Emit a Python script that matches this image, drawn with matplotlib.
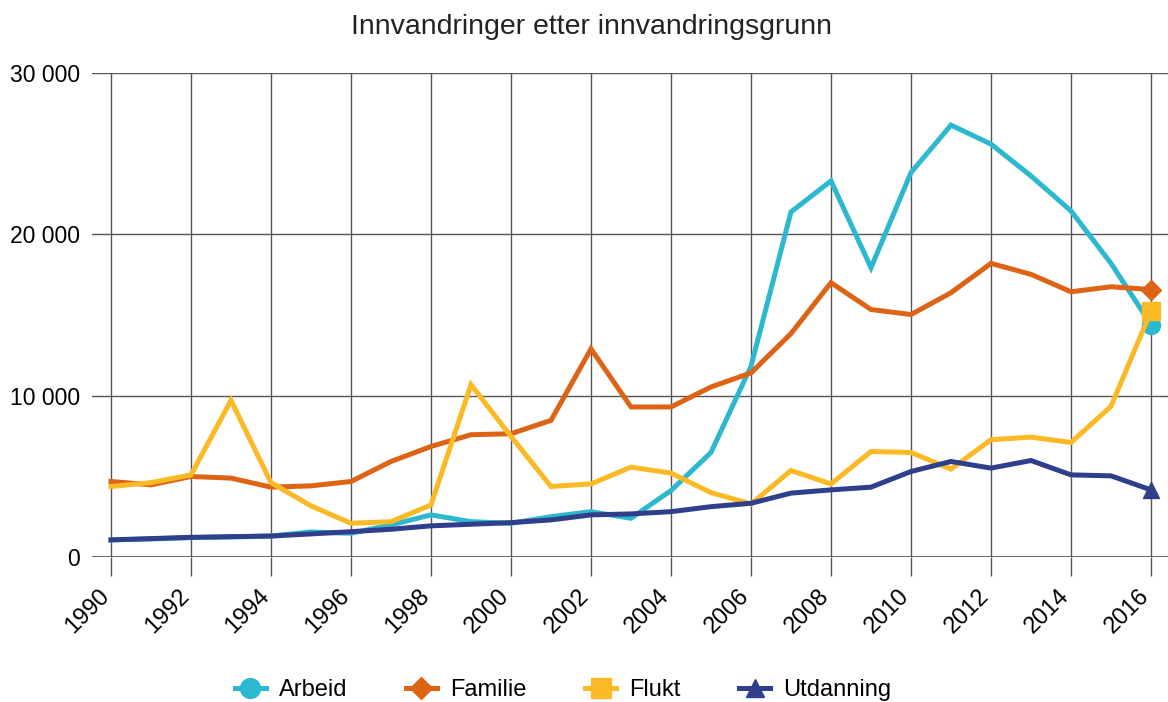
"""Innvandringer etter innvandringsgrunn, 1990-2016."""

import matplotlib.pyplot as plt
from matplotlib.transforms import ScaledTranslation

plt.rcParams["font.family"] = ["Liberation Sans", "DejaVu Sans"]

years = list(range(1990, 2017))

arbeid = [1060, 1120, 1200, 1240, 1300, 1550, 1470, 1990, 2610, 2190,
          2090, 2500, 2810, 2400, 4120, 6480, 11820, 21390, 23310, 17930,
          23830, 26770, 25590, 23620, 21450, 18200, 14410]
familie = [4680, 4470, 4990, 4890, 4330, 4410, 4680, 5920, 6850, 7580,
           7640, 8470, 12900, 9300, 9300, 10540, 11410, 13850, 17000, 15340,
           15030, 16380, 18200, 17520, 16440, 16750, 16580]
flukt = [4370, 4610, 5090, 9710, 4610, 3170, 2090, 2190, 3230, 10680,
         7470, 4370, 4530, 5570, 5200, 3990, 3290, 5360, 4530, 6540,
         6480, 5450, 7270, 7430, 7100, 9340, 15240]
utdanning = [1060, 1140, 1220, 1260, 1300, 1430, 1570, 1720, 1930, 2030,
             2130, 2300, 2610, 2670, 2810, 3120, 3330, 3960, 4160, 4330,
             5300, 5920, 5510, 5980, 5090, 5030, 4160]

series = [
    ("Arbeid", arbeid, "#2cb9cf", "o", 13),
    ("Familie", familie, "#dc6414", "D", 10),
    ("Flukt", flukt, "#fbb925", "s", 13),
    ("Utdanning", utdanning, "#303f8b", "^", 12),
]

fig = plt.figure(figsize=(11.68, 7.02), dpi=100)
ax = fig.add_axes([92 / 1168, 145 / 702, 1076 / 1168, 484 / 702])

for name, values, color, marker, msize in series:
    ax.plot(years, values, color=color, lw=3.6, marker=marker, markersize=msize,
            markevery=[len(values) - 1], label=name, solid_joinstyle="miter",
            zorder=3)

ax.set_xlim(1990 - 19 / 40, 1990 + 1076 / 40 - 19 / 40)
ax.set_ylim(0, 30000)
ax.set_xticks(range(1990, 2017, 2))
ax.set_yticks([0, 10000, 20000, 30000])
ax.set_yticklabels(["0", "10 000", "20 000", "30 000"])
ax.grid(True, color="#555555", lw=1.0, zorder=1)
ax.axhline(0, color="#444444", lw=1.8, zorder=2)
for spine in ax.spines.values():
    spine.set_visible(False)

ax.tick_params(axis="x", length=14, width=1.0, color="#555555", direction="out",
               labelsize=17, pad=6)
ax.tick_params(axis="y", length=0, labelsize=16.5, pad=8.5)
shift = ScaledTranslation(-13 / 100, 0, fig.dpi_scale_trans)
for lbl in ax.get_xticklabels():
    lbl.set_rotation(45)
    lbl.set_ha("right")
    lbl.set_va("top")
    lbl.set_rotation_mode("anchor")
    lbl.set_transform(lbl.get_transform() + shift)

fig.text(0.506, 1 - 34 / 702, "Innvandringer etter innvandringsgrunn",
         ha="center", va="baseline", fontsize=20.5, color="#222222")

fig.legend(loc="center", bbox_to_anchor=(0.482, 12 / 702), ncol=4, frameon=False,
           fontsize=17, handlelength=1.3, columnspacing=2.5, handletextpad=0.55,
           markerscale=1.1)

fig.savefig("out.png", dpi=100)
